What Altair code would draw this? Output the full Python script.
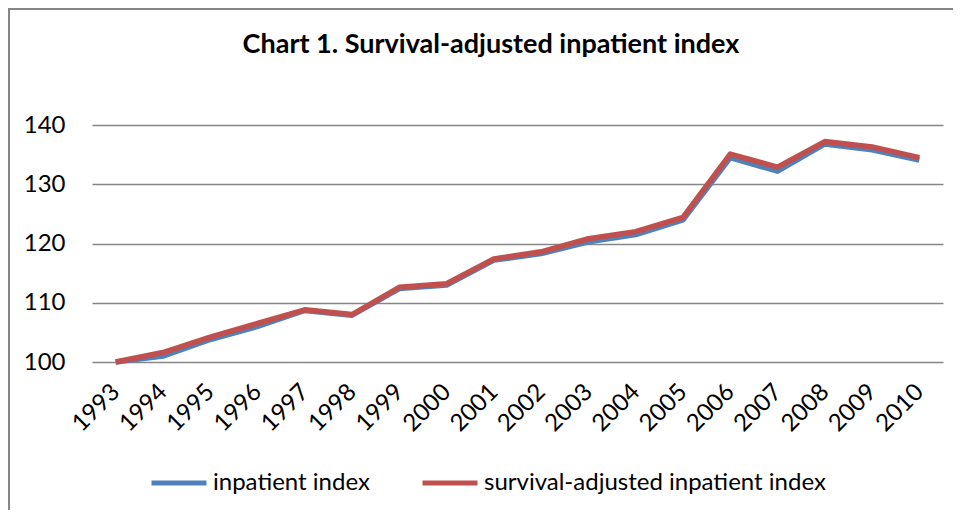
import altair as alt
import pandas as pd

years = [str(y) for y in range(1993, 2011)]
inpatient = [100.0, 101.0, 103.8, 106.0, 108.7, 107.9, 112.4, 113.0, 117.2, 118.3,
             120.3, 121.5, 124.0, 134.5, 132.2, 136.8, 135.8, 134.1]
survival = [100.0, 101.6, 104.2, 106.5, 108.8, 108.0, 112.6, 113.2, 117.4, 118.6,
            120.8, 122.0, 124.4, 135.1, 132.9, 137.2, 136.3, 134.5]
series_names = ["inpatient index", "survival-adjusted inpatient index"]
series_colors = ["#4F81BD", "#C0504D"]
y_ticks = [100, 110, 120, 130, 140]
title_text = "Chart 1. Survival-adjusted inpatient index"

rows = []
for name, vals in zip(series_names, [inpatient, survival]):
    for yr, v in zip(years, vals):
        rows.append({"year": yr, "value": v, "series": name})
df = pd.DataFrame(rows)

FONT = "Lato"
FS = 24

lines = alt.Chart(df).mark_line(strokeWidth=5.5, strokeJoin="round").encode(
    x=alt.X("year:O", sort=years, title=None,
            axis=alt.Axis(labelAngle=-45, labelAlign="right", labelBaseline="middle",
                          labelFontSize=FS, labelFont=FONT, labelColor="#000000",
                          labelPadding=26, ticks=False, domain=False, grid=False)),
    y=alt.Y("value:Q", title=None,
            scale=alt.Scale(domain=[100, 140], nice=False, zero=False),
            axis=alt.Axis(values=y_ticks, labelFontSize=FS, labelFont=FONT,
                          labelColor="#000000", labelPadding=27, ticks=False,
                          domain=False, grid=True, gridColor="#868686",
                          gridWidth=1.6)),
    color=alt.Color("series:N", sort=series_names,
                    scale=alt.Scale(domain=series_names, range=series_colors),
                    legend=alt.Legend(title=None, orient="none", direction="horizontal",
                                      legendX=57, legendY=328, symbolType="stroke",
                                      symbolSize=3025, symbolStrokeWidth=5,
                                      labelFontSize=FS, labelFont=FONT, labelLimit=0,
                                      labelColor="#000000", labelOffset=4,
                                      columnPadding=42)),
    order=alt.Order("series:N"),
)

one = pd.DataFrame({"a": [0]})

border = alt.Chart(one).mark_rect(
    fillOpacity=0, stroke="#868686", strokeWidth=2
).encode(
    x=alt.value(-83), x2=alt.value(1200), y=alt.value(-116), y2=alt.value(1000)
)

title = alt.Chart(one).mark_text(
    text=title_text, font=FONT, fontSize=27, fontWeight="bold", color="#000000",
    align="center", baseline="middle"
).encode(x=alt.value(399), y=alt.value(-80))

chart = alt.layer(border, title, lines).properties(
    width=851, height=237,
    autosize=alt.AutoSizeParams(type="none"),
    padding={"left": 84, "top": 117, "right": 10, "bottom": 148},
).configure(background="white").configure_view(stroke=None)

chart.save("out.html", embed_options={"renderer": "svg", "actions": False})
